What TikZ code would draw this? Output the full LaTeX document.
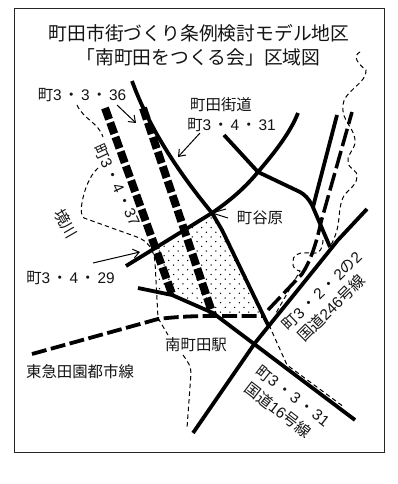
\documentclass[tikz,border=0pt]{standalone}
\usepackage{fontspec}
\setmainfont{Liberation Sans}
\newfontfamily\cjk{Noto Sans CJK JP}
\newcommand\J[1]{{\cjk #1}}
\newcommand\Dt{\hspace{2pt}{\cjk ・}\hspace{2pt}}
\usetikzlibrary{arrows.meta}
\tikzset{
 road/.style={draw=black,line width=3.8pt,line join=round},
 wide/.style={draw=black,line width=8pt,dash pattern=on 12pt off 3.4pt},
 rail/.style={draw=black,line width=3.8pt,dash pattern=on 15pt off 4.5pt},
 railb/.style={draw=black,line width=3.5pt,dash pattern=on 18pt off 5pt},
 river/.style={draw=black,line width=1pt,dash pattern=on 4.5pt off 3.2pt},
 lead/.style={draw=black,line width=1pt},
 barb/.style={-{Straight Barb[length=6pt,width=9pt]}},
 lab/.style={font=\fontsize{15.4}{16}\selectfont,inner sep=0pt,text=black!92},
 ttl/.style={font=\cjk\fontsize{18.8}{20}\selectfont,inner sep=0pt,text=black!92},
}
\begin{document}
\begin{tikzpicture}[x=1pt,y=-1pt]
\useasboundingbox (0,0) rectangle (397,484);
\fill[white] (0,0) rectangle (397,484);
% dotted area
\begin{scope}
\clip (157,250) -- (212,213) -- (222,230) -- (263,316) -- (213,316) -- (172,295) -- (157,288) -- cycle;
\foreach \r in {0,...,25}{
  \pgfmathsetmacro\yy{204+4.7*\r}
  \pgfmathsetmacro\off{mod(\r,2)*4.7}
  \foreach \c in {0,...,14}{
    \fill[black] ({150+\off+9.4*\c},\yy) circle (.75pt);
  }
}
\end{scope}
% river, left
\coordinate (r1) at (77,105);
\coordinate (r2) at (103,137);
\coordinate (r3) at (98,168);
\coordinate (r4) at (82,203);
\coordinate (r5) at (84,218);
\coordinate (r6) at (137,237);
\coordinate (r7) at (155,262);
\coordinate (r8) at (158,318);
\coordinate (r9) at (168,335);
\coordinate (r10) at (183,355);
\coordinate (r11) at (191,373);
\coordinate (r12) at (187,428);
\draw[river] (r1) .. controls (84,120) and (98,122) .. (r2);
\draw[river] (r3) .. controls (90,175) and (84,190) .. (r4) .. controls (80,212) and (82,216) .. (r5) -- (r6) .. controls (148,241) and (154,250) .. (r7) -- (r8) -- (r9);
\draw[river] (r10) .. controls (188,362) and (191,366) .. (r11) -- (r12);
% river, right
\coordinate (s1) at (360,52);
\coordinate (s2) at (366,70);
\coordinate (s3) at (343,105);
\coordinate (s4) at (355,143);
\coordinate (s5) at (348,163);
\coordinate (s6) at (357,177);
\coordinate (s7) at (342,200);
\coordinate (s8) at (330,247);
\draw[river] (s1) .. controls (352,56) and (358,64) .. (s2) .. controls (368,82) and (343,92) .. (s3) .. controls (341,122) and (356,128) .. (s4) .. controls (354,150) and (346,156) .. (s5) .. controls (350,170) and (358,170) .. (s6) .. controls (356,188) and (345,190) .. (s7) .. controls (337,215) and (342,225) .. (s8);
\coordinate (v1) at (323,240);
\coordinate (v2) at (306,253);
\coordinate (v3) at (293,262);
\coordinate (v4) at (300,271);
\coordinate (v5) at (276,313);
\draw[river] (v1) .. controls (322,258) and (312,252) .. (v2) .. controls (298,252) and (292,256) .. (v3) .. controls (292,268) and (296,270) .. (v4) -- (v5);
\coordinate (u1) at (269,325);
\coordinate (u2) at (287,365);
\coordinate (u3) at (344,407);
\draw[river] (u1) -- (u2) -- (u3);
% roads
\coordinate (m1) at (132,81);
\coordinate (m2) at (212,213);
\coordinate (m3) at (222,230);
\coordinate (m4) at (268,325);
\draw[road] (m1) .. controls (148,125) and (175,168) .. (m2) -- (m3) -- (m4);
\coordinate (k1) at (126,266);
\coordinate (k2) at (258,172);
\coordinate (k3) at (298,113);
\draw[road] (k1) -- (m2) .. controls (228,202) and (243,190) .. (k2) .. controls (275,152) and (290,133) .. (k3);
\coordinate (j1) at (224,135);
\coordinate (j2) at (300,192);
\coordinate (j3) at (330,247);
\draw[road] (j1) -- (k2) -- (j2) .. controls (305,195) and (308,198) .. (312,205) -- (j3);
\coordinate (h1) at (313,207);
\coordinate (h2) at (337,115);
\draw[road] (h1) -- (h2);
\coordinate (n1) at (138,288);
\coordinate (n2) at (172,295);
\coordinate (n3) at (213,313);
\coordinate (n4) at (355,420);
\draw[road] (n1) -- (n2) -- (n3) -- (n4);
\coordinate (g1) at (193,433);
\coordinate (g2) at (367,209);
\draw[road] (g1) -- (255,343) .. controls (280,312) and (310,275) .. (338,240) -- (g2);
% planned wide roads
\coordinate (w1) at (105,108);
\coordinate (w2) at (172,294);
\coordinate (w3) at (143,108);
\coordinate (w4) at (213,315);
\draw[wide] (w1) -- (w2);
\draw[wide] (w3) -- (w4);
% railway
\coordinate (t1) at (32,354);
\coordinate (t2) at (158,319);
\coordinate (t3) at (264,316);
\coordinate (t4) at (268,310);
\coordinate (t5) at (302,274);
\coordinate (t6) at (321,222);
\coordinate (t7) at (352,112);
\draw[rail] (t1) -- (t2) .. controls (175,317) and (190,316) .. (213,316) -- (t3);
\draw[railb] (t4) -- (t5) .. controls (310,262) and (316,245) .. (t6) -- (t7);
% leaders
\coordinate (a1) at (117,105);
\coordinate (a2) at (136,123);
\draw[lead,barb] (a1) -- (a2);
\coordinate (b1) at (200,133);
\coordinate (b2) at (178,157);
\draw[lead,barb] (b1) -- (b2);
\coordinate (c1) at (93,263);
\coordinate (c2) at (140,252);
\draw[lead,barb] (c1) -- (c2);
\coordinate (d1) at (226,209);
\coordinate (d2) at (228,218);
\draw[lead] (d1) -- (m2) -- (d2);
% text
\node[ttl] (t1x) at (199,33) {町田市街づくり条例検討モデル地区};
\node[ttl] (t2x) at (198.5,57) {「南町田をつくる会」区域図};
\node[lab] (l1) at (82,95) {\J{町}3\Dt 3\Dt 36};
\node[lab] (l2) at (221,105) {\J{町田街道}};
\node[lab] (l3) at (231.5,125) {\J{町}3\Dt 4\Dt 31};
\node[lab,rotate=-65] (l4) at (117,185) {\J{町}3\Dt 4\Dt 37};
\node[lab,rotate=-60] (l5) at (66,224) {\J{境川}};
\node[lab] (l6) at (260,218) {\J{町谷原}};
\node[lab] (l7) at (70.5,278) {\J{町}3\Dt 4\Dt 29};
\node[lab] (l8) at (196,345) {\J{南町田駅}};
\node[lab] (l9) at (80,372) {\J{東急田園都市線}};
\node[lab,rotate=44] (l10) at (322,291) {\J{町}3\Dt 2\Dt 2\J{の}2};
\node[lab,rotate=45] (l11) at (331,308) {\J{国道}246\J{号線}};
\node[lab,rotate=-38] (l12) at (293,396) {\J{町}3\Dt 3\Dt 31};
\node[lab,rotate=-37.5] (l13) at (278,410) {\J{国道}16\J{号線}};
% frame
\draw[line width=.9pt,black!85] (14.5,8) rectangle (384.5,452);
\end{tikzpicture}
\end{document}
